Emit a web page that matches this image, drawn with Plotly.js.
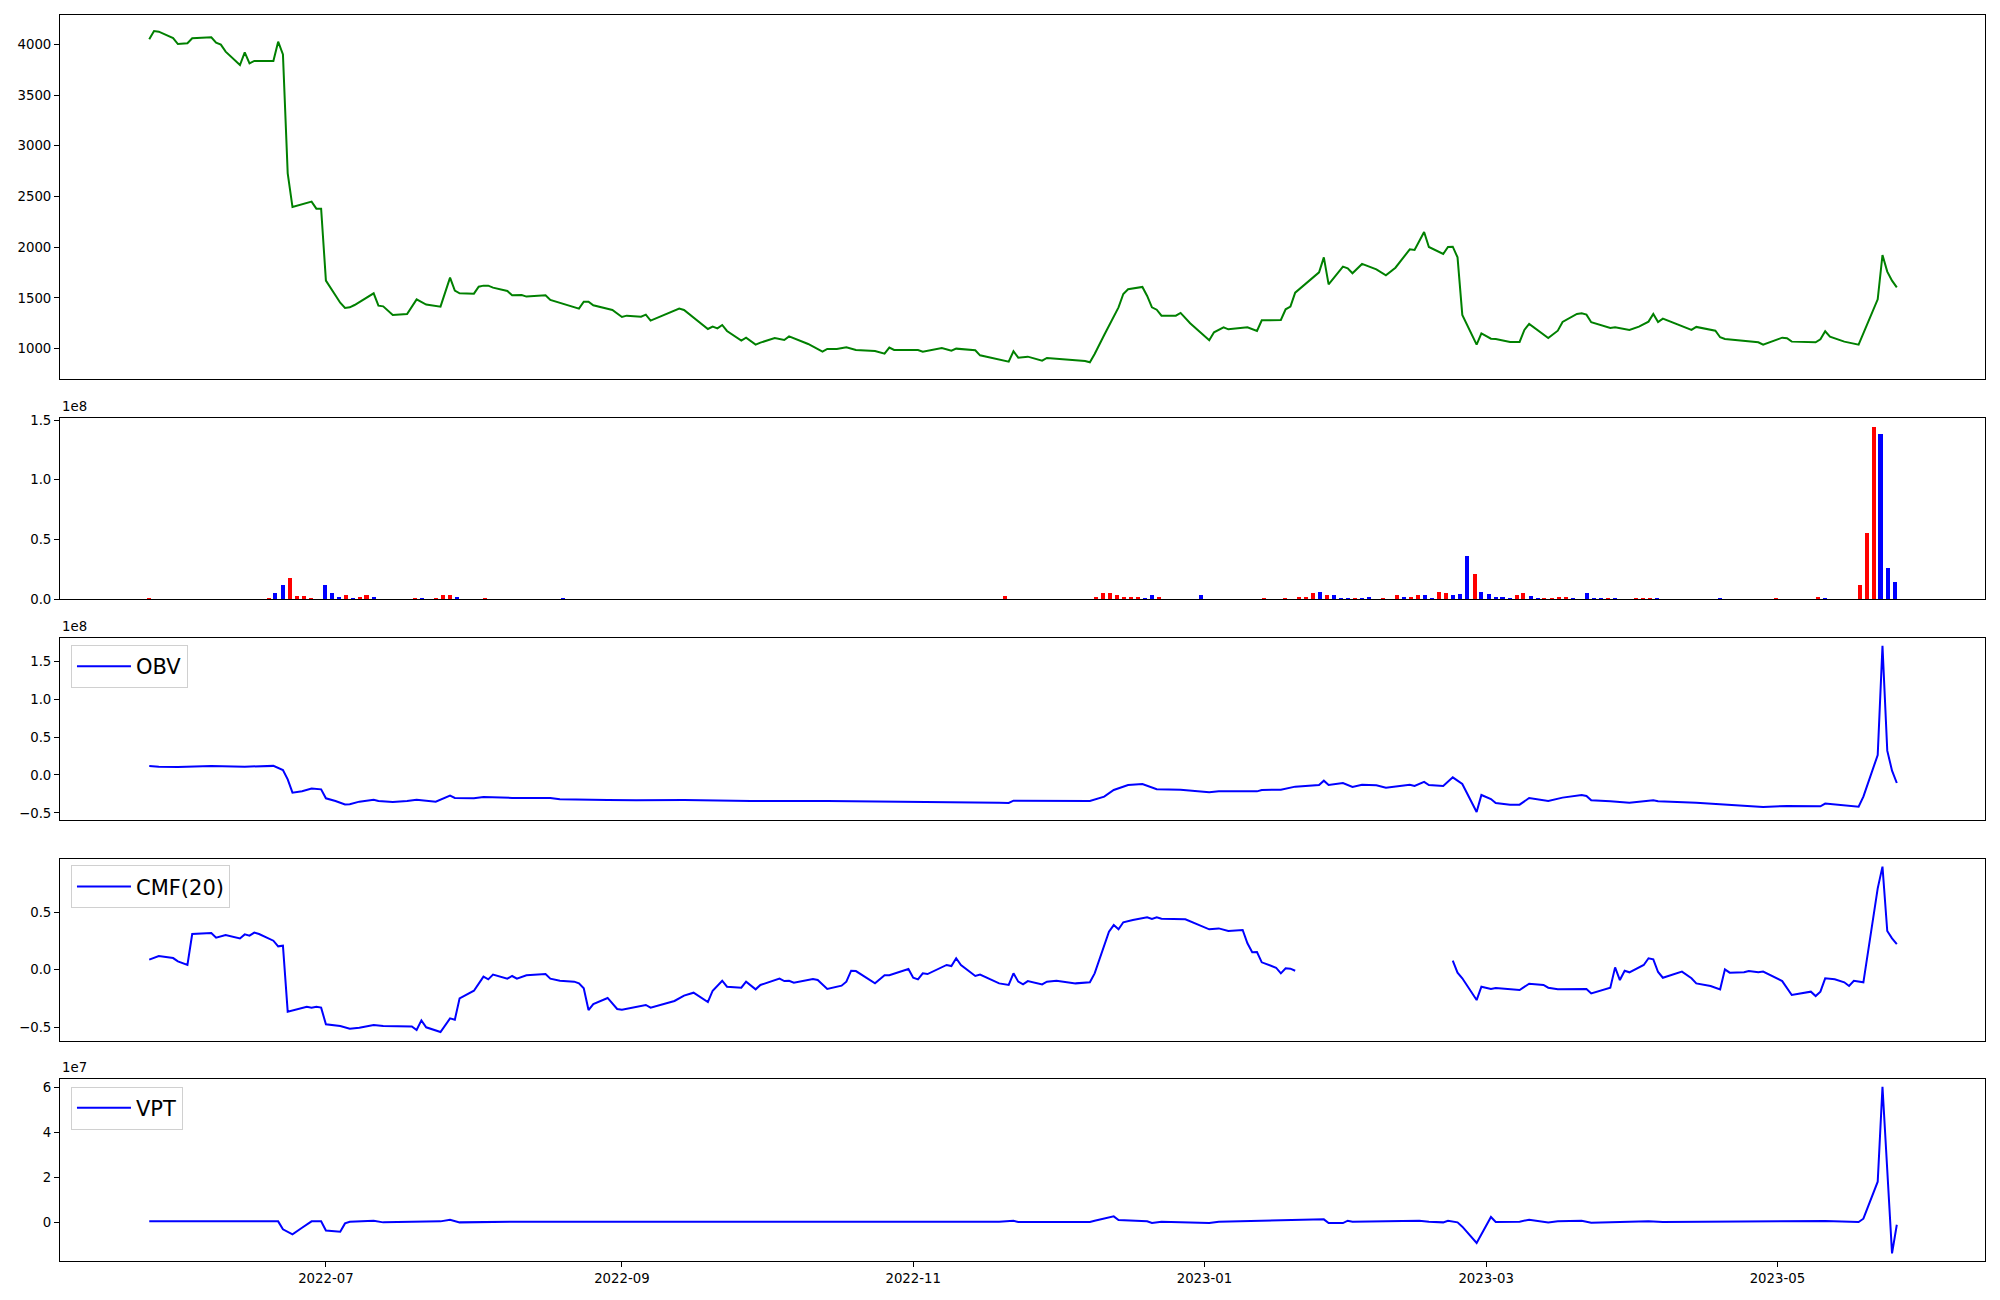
<!DOCTYPE html>
<html>
<head>
<meta charset="utf-8">
<script src="https://cdn.plot.ly/plotly-3.0.1.min.js"></script>
<style>html,body{margin:0;padding:0;background:#fff;}#chart{width:2000px;height:1300px;}</style>
</head>
<body>
<div id="chart"></div>
<script>
// ---------------- DATA ----------------
const priceDates = ['2022-05-25','2022-05-26','2022-05-27','2022-05-30','2022-05-31','2022-06-02','2022-06-03','2022-06-07','2022-06-08','2022-06-09','2022-06-10','2022-06-13','2022-06-14','2022-06-15','2022-06-16','2022-06-20','2022-06-21','2022-06-22','2022-06-23','2022-06-24','2022-06-28','2022-06-29','2022-06-30','2022-07-01','2022-07-04','2022-07-05','2022-07-06','2022-07-07','2022-07-11','2022-07-12','2022-07-13','2022-07-15','2022-07-18','2022-07-20','2022-07-22','2022-07-25','2022-07-27','2022-07-28','2022-07-29','2022-08-01','2022-08-02','2022-08-03','2022-08-04','2022-08-05','2022-08-08','2022-08-09','2022-08-11','2022-08-12','2022-08-16','2022-08-17','2022-08-23','2022-08-24','2022-08-25','2022-08-26','2022-08-30','2022-09-01','2022-09-02','2022-09-05','2022-09-06','2022-09-07','2022-09-13','2022-09-14','2022-09-19','2022-09-20','2022-09-21','2022-09-22','2022-09-23','2022-09-26','2022-09-27','2022-09-29','2022-09-30','2022-10-03','2022-10-05','2022-10-06','2022-10-10','2022-10-13','2022-10-14','2022-10-16','2022-10-18','2022-10-20','2022-10-24','2022-10-26','2022-10-27','2022-10-28','2022-11-02','2022-11-03','2022-11-07','2022-11-09','2022-11-10','2022-11-14','2022-11-15','2022-11-19','2022-11-21','2022-11-22','2022-11-23','2022-11-25','2022-11-28','2022-11-29','2022-12-06','2022-12-07','2022-12-08','2022-12-09','2022-12-11','2022-12-14','2022-12-15','2022-12-16','2022-12-19','2022-12-20','2022-12-21','2022-12-22','2022-12-23','2022-12-26','2022-12-27','2022-12-29','2023-01-02','2023-01-03','2023-01-05','2023-01-06','2023-01-10','2023-01-12','2023-01-13','2023-01-17','2023-01-18','2023-01-19','2023-01-20','2023-01-25','2023-01-26','2023-01-27','2023-01-30','2023-01-31','2023-02-01','2023-02-03','2023-02-06','2023-02-08','2023-02-10','2023-02-13','2023-02-14','2023-02-16','2023-02-17','2023-02-20','2023-02-21','2023-02-22','2023-02-23','2023-02-24','2023-02-27','2023-02-28','2023-03-02','2023-03-03','2023-03-06','2023-03-08','2023-03-09','2023-03-10','2023-03-14','2023-03-16','2023-03-17','2023-03-20','2023-03-21','2023-03-22','2023-03-23','2023-03-27','2023-03-28','2023-03-31','2023-04-02','2023-04-04','2023-04-05','2023-04-06','2023-04-07','2023-04-11','2023-04-12','2023-04-13','2023-04-14','2023-04-18','2023-04-19','2023-04-20','2023-04-27','2023-04-28','2023-05-02','2023-05-03','2023-05-04','2023-05-08','2023-05-09','2023-05-10','2023-05-11','2023-05-12','2023-05-15','2023-05-18','2023-05-22','2023-05-23','2023-05-24','2023-05-25','2023-05-26'];
const priceValues = [4050,4131,4125,4062,4003,4010,4059,4069,4016,3997,3928,3796,3921,3813,3836,3836,4026,3901,2728,2396,2449,2380,2380,1670,1453,1401,1407,1430,1545,1424,1417,1332,1342,1486,1434,1414,1700,1572,1545,1542,1611,1621,1621,1601,1568,1526,1529,1513,1526,1480,1394,1463,1463,1427,1381,1312,1325,1315,1335,1276,1394,1381,1194,1217,1200,1233,1174,1079,1108,1039,1059,1104,1085,1121,1046,970,997,997,1013,987,977,951,1010,987,987,970,1007,980,1000,984,934,892,872,974,911,921,882,908,888,878,865,947,1135,1407,1539,1585,1608,1519,1407,1384,1325,1325,1352,1250,1082,1161,1210,1190,1210,1174,1279,1282,1388,1414,1552,1752,1900,1634,1808,1792,1743,1835,1782,1723,1798,1979,1973,2150,2002,1933,2002,2005,1900,1332,1039,1151,1098,1095,1066,1066,1184,1243,1105,1177,1263,1342,1348,1335,1260,1204,1210,1184,1217,1266,1342,1263,1296,1217,1204,1184,1214,1177,1112,1095,1062,1039,1108,1102,1069,1069,1062,1092,1171,1118,1069,1039,1486,1923,1759,1670,1604];

// Volume bars: up days (red) and down days (blue)
const upVolDates = ['2022-05-25 00:00','2022-06-19 00:00','2022-06-23 12:00','2022-06-25 00:00','2022-06-26 10:00','2022-06-27 22:00','2022-07-05 04:00','2022-07-08 02:00','2022-07-09 12:00','2022-07-19 16:00','2022-07-24 01:00','2022-07-25 12:00','2022-07-27 00:00','2022-08-03 07:00','2022-11-20 05:00','2022-12-09 05:00','2022-12-10 17:00','2022-12-12 05:00','2022-12-13 14:00','2022-12-15 02:00','2022-12-16 14:00','2022-12-18 00:00','2022-12-22 10:00','2023-01-13 12:00','2023-01-17 22:00','2023-01-20 19:00','2023-01-22 07:00','2023-01-23 17:00','2023-01-26 17:00','2023-02-01 12:00','2023-02-07 10:00','2023-02-10 07:00','2023-02-13 07:00','2023-02-14 17:00','2023-02-19 02:00','2023-02-20 14:00','2023-02-26 14:00','2023-03-07 10:00','2023-03-08 19:00','2023-03-13 05:00','2023-03-14 17:00','2023-03-16 05:00','2023-03-17 17:00','2023-03-26 12:00','2023-04-01 07:00','2023-04-02 19:00','2023-04-04 07:00','2023-04-30 17:00','2023-05-09 10:00','2023-05-18 05:00','2023-05-19 17:00','2023-05-21 05:00'];
const upVolValues = [1.0e6,1.0e6,1.8e7,2.5e6,2.5e6,1.0e6,3.5e6,2.0e6,3.5e6,1.0e6,1.0e6,3.5e6,3.5e6,1.0e6,2.5e6,1.5e6,5.0e6,5.0e6,3.5e6,2.0e6,2.0e6,2.0e6,2.0e6,1.0e6,1.0e6,2.0e6,2.0e6,5.0e6,3.0e6,1.0e6,1.0e6,3.0e6,2.0e6,3.5e6,6.0e6,5.0e6,2.1e7,3.5e6,5.0e6,1.0e6,1.0e6,2.0e6,2.0e6,1.0e6,1.0e6,1.0e6,1.0e6,1.0e6,2.0e6,1.17e7,5.5e7,1.442e8];
const downVolDates = ['2022-06-20 10:00','2022-06-21 22:00','2022-06-30 17:00','2022-07-02 05:00','2022-07-03 16:00','2022-07-06 14:00','2022-07-11 00:00','2022-07-21 02:00','2022-07-28 12:00','2022-08-19 16:00','2022-12-19 12:00','2022-12-21 00:00','2022-12-31 07:00','2023-01-25 05:00','2023-01-28 02:00','2023-01-29 14:00','2023-01-31 02:00','2023-02-03 00:00','2023-02-04 12:00','2023-02-11 19:00','2023-02-16 05:00','2023-02-17 17:00','2023-02-22 02:00','2023-02-23 12:00','2023-02-25 02:00','2023-02-28 00:00','2023-03-01 12:00','2023-03-03 00:00','2023-03-04 10:00','2023-03-05 22:00','2023-03-10 07:00','2023-03-11 19:00','2023-03-19 02:00','2023-03-22 02:00','2023-03-23 12:00','2023-03-25 00:00','2023-03-27 22:00','2023-04-05 19:00','2023-04-19 00:00','2023-05-10 22:00','2023-05-22 14:00','2023-05-24 02:00','2023-05-25 14:00'];
const downVolValues = [5.0e6,1.2e7,1.2e7,5.0e6,2.0e6,1.0e6,2.0e6,1.0e6,2.0e6,1.0e6,1.0e6,3.0e6,3.0e6,6.0e6,3.5e6,1.0e6,1.0e6,1.0e6,2.0e6,2.0e6,3.5e6,1.0e6,3.5e6,4.5e6,3.6e7,6.0e6,4.5e6,2.0e6,2.0e6,1.0e6,2.5e6,1.0e6,1.0e6,5.0e6,1.0e6,1.0e6,1.0e6,1.0e6,1.0e6,1.0e6,1.383e8,2.58e7,1.42e7];

const obvDates = ['2022-05-25','2022-05-27','2022-05-31','2022-06-07','2022-06-14','2022-06-20','2022-06-22','2022-06-23','2022-06-24','2022-06-26','2022-06-28','2022-06-30','2022-07-01','2022-07-03','2022-07-05','2022-07-06','2022-07-08','2022-07-11','2022-07-12','2022-07-15','2022-07-18','2022-07-20','2022-07-24','2022-07-27','2022-07-28','2022-08-01','2022-08-03','2022-08-09','2022-08-17','2022-08-19','2022-08-29','2022-09-04','2022-09-14','2022-09-28','2022-10-14','2022-10-28','2022-11-10','2022-11-19','2022-11-21','2022-11-22','2022-12-08','2022-12-11','2022-12-13','2022-12-16','2022-12-19','2022-12-20','2022-12-22','2022-12-27','2023-01-02','2023-01-04','2023-01-12','2023-01-13','2023-01-17','2023-01-20','2023-01-25','2023-01-26','2023-01-27','2023-01-30','2023-02-01','2023-02-03','2023-02-06','2023-02-08','2023-02-13','2023-02-14','2023-02-16','2023-02-17','2023-02-20','2023-02-22','2023-02-24','2023-02-27','2023-02-28','2023-03-02','2023-03-03','2023-03-06','2023-03-08','2023-03-10','2023-03-14','2023-03-17','2023-03-21','2023-03-22','2023-03-23','2023-03-27','2023-03-31','2023-04-05','2023-04-06','2023-04-14','2023-04-19','2023-04-28','2023-05-03','2023-05-10','2023-05-11','2023-05-18','2023-05-19','2023-05-22','2023-05-23','2023-05-24','2023-05-25','2023-05-26'];
const obvValues = [1.2e7,1.1e7,1.05e7,1.2e7,1.1e7,1.2e7,6.6e6,-5.7e6,-2.33e7,-2.15e7,-1.8e7,-1.9e7,-3.08e7,-3.43e7,-3.9e7,-3.87e7,-3.52e7,-3.26e7,-3.43e7,-3.56e7,-3.43e7,-3.26e7,-3.52e7,-2.73e7,-3.03e7,-3.08e7,-2.9e7,-3.03e7,-3.03e7,-3.21e7,-3.3e7,-3.34e7,-3.3e7,-3.43e7,-3.43e7,-3.48e7,-3.52e7,-3.65e7,-3.7e7,-3.39e7,-3.43e7,-2.86e7,-1.98e7,-1.32e7,-1.19e7,-1.41e7,-1.89e7,-1.94e7,-2.29e7,-2.16e7,-2.16e7,-1.98e7,-1.94e7,-1.54e7,-1.32e7,-7.5e6,-1.32e7,-1.06e7,-1.58e7,-1.28e7,-1.36e7,-1.67e7,-1.28e7,-1.45e7,-9.2e6,-1.32e7,-1.45e7,-3.1e6,-1.19e7,-4.88e7,-2.64e7,-3.17e7,-3.7e7,-3.92e7,-3.92e7,-3.04e7,-3.43e7,-2.99e7,-2.64e7,-2.77e7,-3.34e7,-3.48e7,-3.65e7,-3.34e7,-3.48e7,-3.65e7,-3.87e7,-4.22e7,-4.09e7,-4.14e7,-3.78e7,-4.18e7,-2.86e7,2.64e7,1.703e8,3.21e7,5.7e6,-1.06e7];

const cmfDates = ['2022-05-25','2022-05-27','2022-05-30','2022-05-31','2022-06-02','2022-06-03','2022-06-07','2022-06-08','2022-06-10','2022-06-13','2022-06-14','2022-06-15','2022-06-16','2022-06-17','2022-06-20','2022-06-21','2022-06-22','2022-06-23','2022-06-27','2022-06-28','2022-06-29','2022-06-30','2022-07-01','2022-07-04','2022-07-06','2022-07-08','2022-07-11','2022-07-13','2022-07-19','2022-07-20','2022-07-21','2022-07-22','2022-07-25','2022-07-27','2022-07-28','2022-07-29','2022-08-01','2022-08-03','2022-08-04','2022-08-05','2022-08-08','2022-08-09','2022-08-10','2022-08-12','2022-08-16','2022-08-17','2022-08-19','2022-08-22','2022-08-23','2022-08-24','2022-08-25','2022-08-26','2022-08-29','2022-08-31','2022-09-01','2022-09-05','2022-09-06','2022-09-07','2022-09-12','2022-09-14','2022-09-16','2022-09-19','2022-09-20','2022-09-22','2022-09-23','2022-09-26','2022-09-27','2022-09-29','2022-09-30','2022-10-04','2022-10-05','2022-10-06','2022-10-07','2022-10-11','2022-10-12','2022-10-14','2022-10-17','2022-10-18','2022-10-19','2022-10-20','2022-10-24','2022-10-26','2022-10-27','2022-10-31','2022-11-01','2022-11-02','2022-11-03','2022-11-04','2022-11-08','2022-11-09','2022-11-10','2022-11-11','2022-11-14','2022-11-15','2022-11-16','2022-11-18','2022-11-19','2022-11-21','2022-11-22','2022-11-23','2022-11-24','2022-11-25','2022-11-28','2022-11-29','2022-12-01','2022-12-05','2022-12-08','2022-12-09','2022-12-12','2022-12-13','2022-12-14','2022-12-15','2022-12-17','2022-12-20','2022-12-21','2022-12-22','2022-12-23','2022-12-28','2022-12-30','2023-01-02','2023-01-04','2023-01-06','2023-01-09','2023-01-10','2023-01-11','2023-01-12','2023-01-13','2023-01-16','2023-01-17','2023-01-18','2023-01-19','2023-01-20','2023-02-06','2023-02-22','2023-02-23','2023-02-24','2023-02-27','2023-02-28','2023-03-02','2023-03-03','2023-03-08','2023-03-10','2023-03-13','2023-03-14','2023-03-16','2023-03-22','2023-03-23','2023-03-27','2023-03-28','2023-03-29','2023-03-30','2023-03-31','2023-04-03','2023-04-04','2023-04-05','2023-04-06','2023-04-07','2023-04-11','2023-04-13','2023-04-14','2023-04-17','2023-04-19','2023-04-20','2023-04-21','2023-04-24','2023-04-25','2023-04-27','2023-04-28','2023-05-02','2023-05-04','2023-05-08','2023-05-09','2023-05-10','2023-05-11','2023-05-13','2023-05-15','2023-05-16','2023-05-17','2023-05-19','2023-05-22','2023-05-23','2023-05-24','2023-05-25','2023-05-26'];
const cmfValues = [0.087,0.119,0.101,0.072,0.041,0.31,0.319,0.278,0.301,0.272,0.307,0.296,0.322,0.31,0.252,0.203,0.209,-0.365,-0.322,-0.33,-0.322,-0.33,-0.475,-0.49,-0.513,-0.504,-0.481,-0.49,-0.493,-0.525,-0.441,-0.501,-0.542,-0.423,-0.435,-0.249,-0.183,-0.061,-0.084,-0.043,-0.078,-0.055,-0.078,-0.049,-0.038,-0.078,-0.096,-0.104,-0.119,-0.162,-0.351,-0.299,-0.246,-0.342,-0.348,-0.316,-0.307,-0.33,-0.272,-0.226,-0.2,-0.281,-0.183,-0.096,-0.148,-0.157,-0.104,-0.171,-0.133,-0.078,-0.099,-0.096,-0.113,-0.081,-0.09,-0.168,-0.139,-0.104,-0.009,-0.012,-0.119,-0.049,-0.049,0.006,-0.07,-0.084,-0.032,-0.038,0.041,0.032,0.099,0.041,-0.055,-0.043,-0.061,-0.104,-0.119,-0.133,-0.032,-0.104,-0.128,-0.099,-0.128,-0.104,-0.096,-0.119,-0.11,-0.032,0.33,0.388,0.351,0.412,0.432,0.455,0.441,0.455,0.443,0.438,0.403,0.351,0.359,0.336,0.345,0.229,0.151,0.154,0.064,0.017,-0.032,0.012,0.009,-0.009,null,0.078,-0.026,-0.075,-0.264,-0.148,-0.168,-0.159,-0.177,-0.122,-0.133,-0.157,-0.171,-0.168,-0.206,-0.157,0.02,-0.09,-0.009,-0.023,0.041,0.099,0.09,-0.02,-0.07,-0.017,-0.075,-0.119,-0.142,-0.171,0.003,-0.026,-0.023,-0.012,-0.023,-0.017,-0.099,-0.22,-0.191,-0.229,-0.191,-0.075,-0.084,-0.11,-0.142,-0.096,-0.11,0.707,0.896,0.336,0.272,0.223];

const vptDates = ['2022-05-25','2022-06-21','2022-06-22','2022-06-24','2022-06-26','2022-06-28','2022-06-30','2022-07-01','2022-07-04','2022-07-05','2022-07-06','2022-07-11','2022-07-13','2022-07-25','2022-07-27','2022-07-29','2022-08-09','2022-11-19','2022-11-22','2022-11-23','2022-12-08','2022-12-09','2022-12-13','2022-12-14','2022-12-20','2022-12-21','2022-12-23','2023-01-02','2023-01-04','2023-01-25','2023-01-26','2023-01-27','2023-01-30','2023-01-31','2023-02-01','2023-02-15','2023-02-17','2023-02-20','2023-02-21','2023-02-23','2023-02-24','2023-02-27','2023-03-02','2023-03-03','2023-03-08','2023-03-10','2023-03-14','2023-03-16','2023-03-21','2023-03-23','2023-04-02','2023-04-04','2023-04-07','2023-05-11','2023-05-18','2023-05-19','2023-05-22','2023-05-23','2023-05-25','2023-05-26'];
const vptValues = [4.5e5,4.5e5,-3.1e6,-5.35e6,-2.4e6,4.5e5,4.5e5,-3.6e6,-4.2e6,-4.5e5,3.0e5,7.4e5,0,4.5e5,1.2e6,0,3.0e5,3.0e5,7.4e5,1.5e5,1.5e5,7.4e5,2.67e6,1.04e6,4.5e5,-3.0e5,3.0e5,-3.0e5,3.0e5,1.04e6,1.34e6,-3.0e5,-3.0e5,7.4e5,3.0e5,7.4e5,3.0e5,0,7.4e5,0,-1.93e6,-9.2e6,2.38e6,1.5e5,3.0e5,1.2e6,0,4.5e5,7.4e5,-1.5e5,3.0e5,4.5e5,1.5e5,6.0e5,1.5e5,1.63e6,1.81e7,6.04e7,-1.38e7,-1.04e6];

// axis tick labels
const priceTicks = [1000,1500,2000,2500,3000,3500,4000];
const priceTickText = ['1000','1500','2000','2500','3000','3500','4000'];
const volTicks = [0,0.5e8,1.0e8,1.5e8];
const volTickText = ['0.0','0.5','1.0','1.5'];
const obvTicks = [-0.5e8,0,0.5e8,1.0e8,1.5e8];
const obvTickText = ['\u22120.5','0.0','0.5','1.0','1.5'];
const cmfTicks = [-0.5,0,0.5];
const cmfTickText = ['\u22120.5','0.0','0.5'];
const vptTicks = [0,2e7,4e7,6e7];
const vptTickText = ['0','2','4','6'];

// ---------------- LAYOUT ----------------
const FONT = 'DejaVu Sans, sans-serif';
const xRange = ['2022-05-06 07:26','2023-06-13 11:17'];
const barWidth = 0.84 * 86400000;

function yAx(domain, range, tv, tt) {
  return {domain: domain, range: range, tickvals: tv, ticktext: tt,
    showgrid: false, zeroline: false, showline: true, mirror: true,
    linecolor: '#000', linewidth: 1, ticks: 'outside', ticklen: 5, tickwidth: 1,
    tickcolor: '#000', tickfont: {family: FONT, size: 13.3, color: '#000'}, fixedrange: true};
}
function xAx(anchor, bottom) {
  const a = {anchor: anchor, type: 'date', range: xRange, showgrid: false, zeroline: false,
    showline: true, mirror: true, linecolor: '#000', linewidth: 1,
    tickfont: {family: FONT, size: 13.3, color: '#000'}};
  if (bottom) {
    Object.assign(a, {ticks: 'outside', ticklen: 5, tickwidth: 1, tickcolor: '#000',
      tickformat: '%Y-%m', dtick: 'M2', tick0: '2022-07-01', showticklabels: true});
  } else {
    Object.assign(a, {ticks: '', showticklabels: false});
  }
  return a;
}

const traces = [
  {x: priceDates, y: priceValues, type: 'scatter', mode: 'lines', line: {color: '#008000', width: 2}, xaxis: 'x', yaxis: 'y', showlegend: false, name: 'Close'},
  {x: upVolDates, y: upVolValues, type: 'bar', marker: {color: '#ff0000', line: {width: 0}}, width: barWidth, xaxis: 'x2', yaxis: 'y2', showlegend: false, name: 'Volume up'},
  {x: downVolDates, y: downVolValues, type: 'bar', marker: {color: '#0000ff', line: {width: 0}}, width: barWidth, xaxis: 'x2', yaxis: 'y2', showlegend: false, name: 'Volume down'},
  {x: obvDates, y: obvValues, type: 'scatter', mode: 'lines', line: {color: '#0000ff', width: 2}, xaxis: 'x3', yaxis: 'y3', name: 'OBV', legend: 'legend'},
  {x: cmfDates, y: cmfValues, type: 'scatter', mode: 'lines', line: {color: '#0000ff', width: 2}, xaxis: 'x4', yaxis: 'y4', name: 'CMF(20)', legend: 'legend2', connectgaps: false},
  {x: vptDates, y: vptValues, type: 'scatter', mode: 'lines', line: {color: '#0000ff', width: 2}, xaxis: 'x5', yaxis: 'y5', name: 'VPT', legend: 'legend3'}
];

const legendStyle = (y) => ({x: 0.0057, y: y, xanchor: 'left', yanchor: 'top', xref: 'paper', yref: 'paper',
  bgcolor: 'rgba(255,255,255,0.8)', bordercolor: '#d0d0d0', borderwidth: 1,
  font: {family: FONT, size: 21, color: '#000'}, itemwidth: 54, tracegroupgap: 0});

const layout = {
  width: 2000, height: 1300,
  margin: {l: 60, r: 15, t: 15, b: 39},
  paper_bgcolor: '#fff', plot_bgcolor: '#fff',
  bargap: 0, barmode: 'overlay',
  font: {family: FONT, color: '#000'},
  xaxis: xAx('y', false),
  xaxis2: Object.assign(xAx('y2', false), {matches: 'x'}),
  xaxis3: Object.assign(xAx('y3', false), {matches: 'x'}),
  xaxis4: Object.assign(xAx('y4', false), {matches: 'x'}),
  xaxis5: Object.assign(xAx('y5', true), {matches: 'x'}),
  yaxis: yAx([0.7079, 1.0], [701, 4289], priceTicks, priceTickText),
  yaxis2: yAx([0.5313, 0.6763], [0, 1.514e8], volTicks, volTickText),
  yaxis3: yAx([0.3537, 0.4998], [-0.598e8, 1.804e8], obvTicks, obvTickText),
  yaxis4: yAx([0.1763, 0.3226], [-0.623, 0.962], cmfTicks, cmfTickText),
  yaxis5: yAx([0.0, 0.1458], [-1.72e7, 6.37e7], vptTicks, vptTickText),
  legend: legendStyle(0.4944),
  legend2: legendStyle(0.3176),
  legend3: legendStyle(0.1400),
  annotations: [
    {text: '1e8', xref: 'paper', yref: 'paper', x: 0, y: 0.6763, xanchor: 'left', yanchor: 'bottom', yshift: 2, showarrow: false, font: {family: FONT, size: 13.3, color: '#000'}},
    {text: '1e8', xref: 'paper', yref: 'paper', x: 0, y: 0.4998, xanchor: 'left', yanchor: 'bottom', yshift: 2, showarrow: false, font: {family: FONT, size: 13.3, color: '#000'}},
    {text: '1e7', xref: 'paper', yref: 'paper', x: 0, y: 0.1458, xanchor: 'left', yanchor: 'bottom', yshift: 2, showarrow: false, font: {family: FONT, size: 13.3, color: '#000'}}
  ]
};

Plotly.newPlot('chart', traces, layout, {staticPlot: true, displayModeBar: false});
</script>
</body>
</html>
